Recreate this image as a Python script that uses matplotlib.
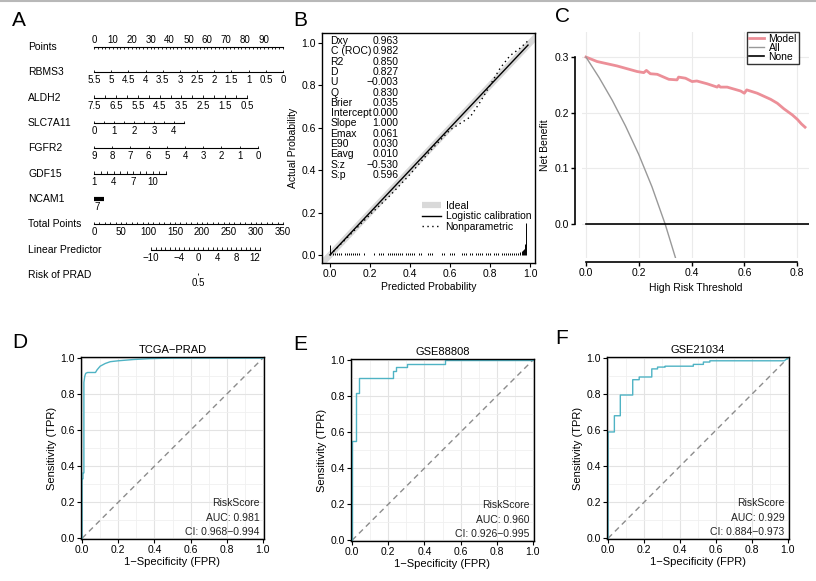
import numpy as np
import matplotlib
matplotlib.use("Agg")
import matplotlib.pyplot as plt
from matplotlib.lines import Line2D

plt.rcParams["font.family"] = ["Liberation Sans", "DejaVu Sans"]
plt.rcParams["axes.unicode_minus"] = True

# -------------------------------
# DATA
# -------------------------------
# A: nomogram axes (variable values and the points at both ends of each scale)
points_ticks = list(range(0, 101, 2))
points_labels = [0, 10, 20, 30, 40, 50, 60, 70, 80, 90]
rbms3_vals = [5.5, 5, 4.5, 4, 3.5, 3, 2.5, 2, 1.5, 1, 0.5, 0]
aldh2_vals = [7.5, 7, 6.5, 6, 5.5, 5, 4.5, 4, 3.5, 3, 2.5, 2, 1.5, 1, 0.5]
aldh2_labels = [7.5, 6.5, 5.5, 4.5, 3.5, 2.5, 1.5, 0.5]
slc7a11_vals = [0, 0.5, 1, 1.5, 2, 2.5, 3, 3.5, 4, 4.5]
slc7a11_labels = [0, 1, 2, 3, 4]
fgfr2_vals = [9, 8, 7, 6, 5, 4, 3, 2, 1, 0]
gdf15_vals = [1, 2, 3, 4, 5, 6, 7, 8, 9, 10, 11, 12]
gdf15_labels = [1, 4, 7, 10]
total_ticks = list(range(0, 351, 10))
total_labels = [0, 50, 100, 150, 200, 250, 300, 350]
lp_ticks = list(range(-10, 14))
lp_labels = [-10, -4, 0, 4, 8, 12]

# scale ends: (value at start, points at start, value at end, points at end)
rbms3_scale = (5.5, 0, 0, 100)
aldh2_scale = (7.5, 0, 0.5, 81)
slc7a11_scale = (0, 0, 4.5, 47.6)
fgfr2_scale = (9, 0, 0, 86.7)
gdf15_scale = (1, 0, 12, 38.1)
ncam1_pts = (0, 5.3)
total_scale = (0, 0, 350, 100)
lp_scale = (-10, 30.2, 12, 85.2)
risk_lp = 0.0

# B: calibration
stat_names = ["Dxy", "C (ROC)", "R2", "D", "U", "Q", "Brier", "Intercept",
              "Slope", "Emax", "E90", "Eavg", "S:z", "S:p"]
stat_values = ["0.963", "0.982", "0.850", "0.827", "\u22120.003", "0.830", "0.035",
               "0.000", "1.000", "0.061", "0.030", "0.010", "\u22120.530", "0.596"]
ideal_x = [-0.05, 1.05]
logit_x = [0.0, 0.99]
logit_y = [0.0, 0.99]
np_x = [0.0, 0.1, 0.2, 0.3, 0.4, 0.5, 0.6, 0.65, 0.7, 0.75, 0.8, 0.85, 0.9, 0.95, 0.99]
np_y = [0.0, 0.095, 0.19, 0.28, 0.38, 0.49, 0.59, 0.62, 0.65, 0.72, 0.80, 0.88, 0.94, 0.975, 1.01]
spike_x = [0.0, 0.015, 0.025, 0.035, 0.045, 0.055, 0.075, 0.085, 0.095, 0.105,
           0.115, 0.125, 0.135, 0.145, 0.17, 0.22, 0.245, 0.255, 0.265,
           0.29, 0.30, 0.31, 0.32, 0.33, 0.34, 0.35, 0.36, 0.38, 0.39, 0.40,
           0.41, 0.42, 0.445, 0.455, 0.49, 0.50, 0.51, 0.56, 0.57, 0.60, 0.61,
           0.62, 0.66, 0.67, 0.68, 0.70, 0.71, 0.73, 0.74, 0.75, 0.76, 0.78,
           0.79, 0.80, 0.82, 0.83, 0.84, 0.86, 0.87, 0.88, 0.89, 0.90, 0.91,
           0.92, 0.93, 0.94, 0.95, 0.96, 0.965, 0.97, 0.975, 0.98]
spike_h = [0.045] + [0.007] * 65 + [0.012, 0.018, 0.025, 0.03, 0.05, 0.15]

# C: decision curve
thr_model = [0, 0.042, 0.118, 0.194, 0.219, 0.229, 0.244, 0.27, 0.314, 0.345,
             0.351, 0.377, 0.402, 0.42, 0.459, 0.497, 0.503, 0.509, 0.535, 0.586,
             0.6, 0.609, 0.649, 0.7, 0.725, 0.75, 0.782, 0.801, 0.816, 0.83]
nb_model = [0.3, 0.292, 0.284, 0.274, 0.272, 0.276, 0.27, 0.269, 0.26, 0.259,
            0.264, 0.262, 0.256, 0.257, 0.252, 0.246, 0.249, 0.246, 0.246, 0.239,
            0.235, 0.241, 0.235, 0.224, 0.217, 0.207, 0.196, 0.188, 0.18, 0.174]
thr_all = [0, 0.05, 0.1, 0.15, 0.2, 0.25, 0.3, 0.34]
nb_all = [0.3, 0.263, 0.222, 0.176, 0.125, 0.067, 0.0, -0.062]
thr_none = [0, 0.85]
nb_none = [0, 0]

# D-F: ROC curves
fpr_d = [0, 0, 0.005, 0.005, 0.01, 0.01, 0.015, 0.02, 0.03, 0.05, 0.074, 0.083,
         0.1, 0.128, 0.156, 0.2, 0.284, 0.376, 0.5, 1.0]
tpr_d = [0, 0.33, 0.33, 0.363, 0.363, 0.865, 0.9, 0.915, 0.92, 0.92, 0.92, 0.935,
         0.955, 0.97, 0.98, 0.985, 0.992, 0.997, 1.0, 1.0]
fpr_e = [0, 0, 0.02, 0.02, 0.04, 0.04, 0.225, 0.225, 0.245, 0.245, 0.305, 0.305,
         0.515, 0.515, 1.0]
tpr_e = [0, 0.55, 0.55, 0.82, 0.82, 0.90, 0.90, 0.94, 0.94, 0.96, 0.96, 0.98,
         0.98, 1.0, 1.0]
fpr_f = [0, 0, 0.035, 0.035, 0.068, 0.068, 0.137, 0.137, 0.173, 0.173, 0.243,
         0.243, 0.275, 0.275, 0.317, 0.317, 0.474, 0.474, 0.53, 0.53, 0.566,
         0.566, 0.98, 1.0]
tpr_f = [0, 0.59, 0.59, 0.68, 0.68, 0.795, 0.795, 0.88, 0.88, 0.895, 0.895,
         0.94, 0.94, 0.95, 0.95, 0.955, 0.955, 0.965, 0.965, 0.978, 0.978,
         0.985, 0.985, 1.0]
roc_titles = ["TCGA\u2212PRAD", "GSE88808", "GSE21034"]
roc_auc = ["0.981", "0.960", "0.929"]
roc_ci = ["0.968\u22120.994", "0.926\u22120.995", "0.884\u22120.973"]

# -------------------------------
# FIGURE
# -------------------------------
W, H = 816, 581
fig = plt.figure(figsize=(W / 100, H / 100), dpi=100)


def rect(l, t, r, b):
    return [l / W, 1 - b / H, (r - l) / W, (b - t) / H]


fig.add_artist(Line2D([0, 1], [1 - 1 / H, 1 - 1 / H], color="#b8b8b8", lw=1.5))

letters = [("A", 12, 20), ("B", 293, 20), ("C", 555, 16),
           ("D", 12, 342), ("E", 293, 344), ("F", 555, 339)]
for s, x, y in letters:
    fig.text(x / W, 1 - y / H, s, fontsize=15, ha="left", va="center")

# -------------------------------
# A. NOMOGRAM
# -------------------------------
axA = fig.add_axes(rect(0, 0, 290, 300))
axA.axis("off")
ppx = 1.89
row_px = 25.33
axA.set_xlim(-94 / ppx, (290 - 94) / ppx)
axA.set_ylim((300 - 47) / row_px, -47 / row_px)

label_x = (28 - 94) / ppx
row_names = ["Points", "RBMS3", "ALDH2", "SLC7A11", "FGFR2", "GDF15", "NCAM1",
             "Total Points", "Linear Predictor", "Risk of PRAD"]
for i, name in enumerate(row_names):
    axA.text(label_x, i, name, fontsize=7.5, ha="left", va="center")


def to_pts(vals, scale):
    v0, p0, v1, p1 = scale
    return p0 + (np.asarray(vals, float) - v0) / (v1 - v0) * (p1 - p0)


def nomo_row(i, ticks, labels, scale, top=False):
    tp = to_pts(ticks, scale)
    axA.plot([tp.min(), tp.max()], [i, i], color="black", lw=0.8)
    tl = 0.09
    if top:
        axA.vlines(tp, i, i + tl, color="black", lw=0.6)
    else:
        axA.vlines(tp, i, i - tl, color="black", lw=0.6)
    lp = to_pts(labels, scale)
    dy = -0.28 if top else 0.32
    for v, p in zip(labels, lp):
        txt = f"{v:g}".replace("-", "\u2212")
        axA.text(p, i + dy, txt, fontsize=7, ha="center", va="center")


nomo_row(0, points_ticks, points_labels, (0, 0, 100, 100), top=True)
nomo_row(1, rbms3_vals, rbms3_vals, rbms3_scale)
nomo_row(2, aldh2_vals, aldh2_labels, aldh2_scale)
nomo_row(3, slc7a11_vals, slc7a11_labels, slc7a11_scale)
nomo_row(4, fgfr2_vals, fgfr2_vals, fgfr2_scale)
nomo_row(5, gdf15_vals, gdf15_labels, gdf15_scale)
axA.plot(ncam1_pts, [6, 6], color="black", lw=3, solid_capstyle="butt")
axA.text(ncam1_pts[0], 6.32, "7", fontsize=7, ha="left", va="center")
nomo_row(7, total_ticks, total_labels, total_scale)
nomo_row(8, lp_ticks, lp_labels, lp_scale)
risk_p = to_pts([risk_lp], lp_scale)[0]
axA.vlines(risk_p, 9 - 0.09, 9, color="black", lw=0.6)
axA.text(risk_p, 9.32, "0.5", fontsize=7, ha="center", va="center")

# -------------------------------
# B. CALIBRATION
# -------------------------------
axB = fig.add_axes(rect(322, 33, 535, 263))
axB.plot(ideal_x, ideal_x, color="#d9d9d9", lw=4.5, solid_capstyle="butt", label="Ideal")
axB.plot(logit_x, logit_y, color="black", lw=1.0, label="Logistic calibration")
axB.plot(np_x, np_y, color="black", lw=1.0, ls=(0, (1, 2.5)), label="Nonparametric")
axB.vlines(spike_x, 0, spike_h, color="black", lw=0.7)
axB.set_xlim(-0.04, 1.025)
axB.set_ylim(-0.038, 1.047)
axB.set_xticks([0, 0.2, 0.4, 0.6, 0.8, 1.0])
axB.set_yticks([0, 0.2, 0.4, 0.6, 0.8, 1.0])
axB.tick_params(labelsize=7.5, length=3, width=0.8, pad=1.5)
for sp in axB.spines.values():
    sp.set_linewidth(1.0)
axB.set_xlabel("Predicted Probability", fontsize=7.5, labelpad=2)
axB.set_ylabel("Actual Probability", fontsize=7.5, labelpad=2)
for k, (n, v) in enumerate(zip(stat_names, stat_values)):
    yy = 0.965 - k * 0.0448
    axB.text(0.04, yy, n, transform=axB.transAxes, fontsize=7.5, ha="left", va="center")
    axB.text(0.36, yy, v, transform=axB.transAxes, fontsize=7.5, ha="right", va="center")
axB.legend(loc="upper left", bbox_to_anchor=(0.47, 0.27), frameon=False,
           fontsize=7.5, borderpad=0, borderaxespad=0, handlelength=1.8,
           handletextpad=0.45, labelspacing=0.05)

# -------------------------------
# C. DECISION CURVE
# -------------------------------
axC = fig.add_axes(rect(582, 32, 809, 258))
axC.grid(True, color="#ebebeb", lw=0.8)
axC.set_axisbelow(True)
axC.plot(thr_model, nb_model, color="#ec8f98", lw=2.0, label="Model")
axC.plot(thr_all, nb_all, color="#999999", lw=1.0, label="All")
axC.plot(thr_none, nb_none, color="black", lw=1.2, label="None")
axC.set_xlim(-0.015, 0.845)
axC.set_ylim(-0.061, 0.345)
axC.set_xticks([0, 0.2, 0.4, 0.6, 0.8])
axC.set_yticks([0.0, 0.1, 0.2, 0.3])
axC.set_yticklabels(["0.0", "0.1", "0.2", "0.3"])
axC.spines["top"].set_visible(False)
axC.spines["right"].set_visible(False)
axC.spines["left"].set_position(("outward", 5))
axC.spines["bottom"].set_position(("outward", 3))
axC.spines["left"].set_bounds(0, 0.3)
axC.spines["bottom"].set_bounds(0, 0.8)
for sp in ["left", "bottom"]:
    axC.spines[sp].set_linewidth(1.2)
axC.tick_params(labelsize=7.5, length=3, width=1.0, pad=1.5)
axC.set_xlabel("High Risk Threshold", fontsize=7.5, labelpad=3)
axC.set_ylabel("Net Benefit", fontsize=7.5, labelpad=3)
legC = axC.legend(loc="upper right", bbox_to_anchor=(0.956, 1.0), fontsize=7.5,
                  frameon=True, fancybox=False, borderpad=0.2, borderaxespad=0,
                  handlelength=1.5, handletextpad=0.4, labelspacing=-0.1)
legC.get_frame().set_edgecolor("black")
legC.get_frame().set_linewidth(1.0)

# -------------------------------
# D-F. ROC CURVES
# -------------------------------
roc_rects = [rect(81, 357, 264, 539), rect(351, 359, 534, 541), rect(607, 357, 789, 539)]
roc_data = [(fpr_d, tpr_d), (fpr_e, tpr_e), (fpr_f, tpr_f)]
for k, r in enumerate(roc_rects):
    ax = fig.add_axes(r)
    ax.set_xticks(np.linspace(0, 1, 6))
    ax.set_yticks(np.linspace(0, 1, 6))
    ax.set_xticks(np.linspace(0.1, 0.9, 5), minor=True)
    ax.set_yticks(np.linspace(0.1, 0.9, 5), minor=True)
    ax.grid(True, which="major", color="#e3e3e3", lw=0.8)
    ax.grid(True, which="minor", color="#f0f0f0", lw=0.6)
    ax.tick_params(which="minor", length=0)
    ax.set_axisbelow(True)
    ax.plot([0, 1], [0, 1], color="#8c8c8c", lw=1.0, ls=(0, (4, 3)))
    fpr, tpr = roc_data[k]
    ax.plot(fpr, tpr, color="#4fb3c4", lw=1.0)
    ax.set_xlim(-0.006, 1.006)
    ax.set_ylim(-0.004, 1.006)
    ax.xaxis.set_major_formatter(matplotlib.ticker.FormatStrFormatter("%.1f"))
    ax.yaxis.set_major_formatter(matplotlib.ticker.FormatStrFormatter("%.1f"))
    ax.tick_params(which="major", labelsize=7.5, length=3, width=0.8, pad=1.5)
    for sp in ax.spines.values():
        sp.set_linewidth(1.0)
    ax.set_title(roc_titles[k], fontsize=8, pad=3)
    ax.set_xlabel("1\u2212Specificity (FPR)", fontsize=8, labelpad=1.5)
    ax.set_ylabel("Sensitivity (TPR)", fontsize=8, labelpad=2)
    ax.text(0.975, 0.198, "RiskScore", transform=ax.transAxes, fontsize=7.5,
            ha="right", va="center", color="#222222")
    ax.text(0.975, 0.115, "AUC: " + roc_auc[k], transform=ax.transAxes, fontsize=7.5,
            ha="right", va="center", color="#222222")
    ax.text(0.975, 0.038, "CI: " + roc_ci[k], transform=ax.transAxes, fontsize=7.5,
            ha="right", va="center", color="#222222")

fig.savefig("out.png", dpi=100)
